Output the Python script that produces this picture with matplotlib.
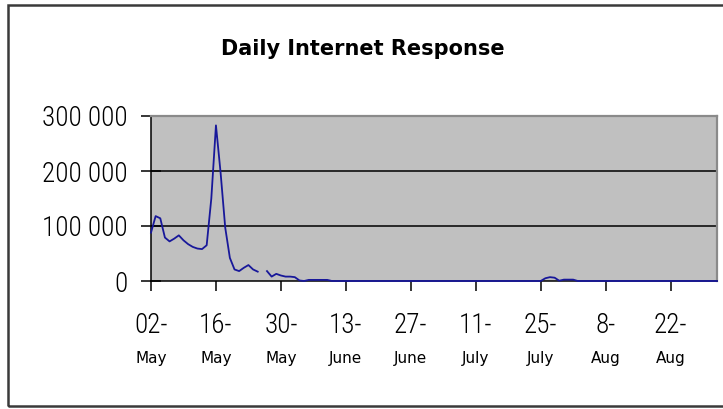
import matplotlib
matplotlib.use('Agg')
import matplotlib.pyplot as plt
from matplotlib.patches import Rectangle
import numpy as np
import pandas as pd

# daily hits, 02 May .. 01 Sep (nan = no data that day)
start_date = '2000-05-02'
values = [88000, 118000, 114000, 79000, 72000, 77000, 83000, 74000, 67000, 62000,
          59000, 58000, 65000, 150000, 283000, 197000, 97000, 42000, 21000, 18000,
          24000, 29000, 21000, 17000, np.nan, 18000, 8000, 13000, 10000, 8000,
          8000, 7000, 1000, 0, 2000, 2000, 2000, 2000, 2000, 0,
          0, 0, 0, 0, 0, 0, 0, 0, 0, 0,
          0, 0, 0, 0, 0, 0, 0, 0, 0, 0,
          0, 0, 0, 0, 0, 0, 0, 0, 0, 0,
          0, 0, 0, 0, 0, 0, 0, 0, 0, 0,
          0, 0, 0, 0, 0, 5000, 7000, 6000, 500, 2500,
          2500, 2500, 0, 0, 0, 0, 0, 0, 0, 0,
          0, 0, 0, 0, 0, 0, 0, 0, 0, 0,
          0, 0, 0, 0, 0, 0, 0, 0, 0, 0,
          0, 0, 0]
dates = pd.date_range(start_date, periods=len(values), freq='D')

tick_dates = ['2000-05-02', '2000-05-16', '2000-05-30', '2000-06-13', '2000-06-27',
              '2000-07-11', '2000-07-25', '2000-08-08', '2000-08-22']
tick_day = ['02-', '16-', '30-', '13-', '27-', '11-', '25-', '8-', '22-']
tick_month = ['May', 'May', 'May', 'June', 'June', 'July', 'July', 'Aug', 'Aug']
y_ticks = [0, 100000, 200000, 300000]
y_labels = ['0', '100 000', '200 000', '300 000']

narrow = 'Roboto Condensed'

fig = plt.figure(figsize=(7.23, 4.09), dpi=100)
fig.patches.append(Rectangle((8/723, 3/409), 1.0, 401/409, transform=fig.transFigure,
                             fill=False, edgecolor='#3a3a3a', linewidth=1.8))

ax = fig.add_axes([151/723, 1-281/409, (717-151)/723, (281-116)/409])
ax.set_facecolor('#c0c0c0')

ax.plot(dates, values, color='#18189a', linewidth=1.3, zorder=4, clip_on=False)

ax.set_xlim(dates[0], dates[-1])
ax.set_ylim(0, 300000)

for yv in [100000, 200000]:
    ax.axhline(yv, color='black', linewidth=1.1, zorder=1)

for s in ['top', 'right']:
    ax.spines[s].set_color('#8a8a8a')
    ax.spines[s].set_linewidth(1.6)
for s in ['left', 'bottom']:
    ax.spines[s].set_color('black')
    ax.spines[s].set_linewidth(1.1)

ax.set_yticks(y_ticks)
ax.set_yticklabels(y_labels, fontsize=19.5, family=narrow, fontweight='light')
ax.tick_params(axis='y', direction='inout', length=15, width=1.1, pad=9)

tpos = pd.to_datetime(tick_dates)
ax.set_xticks(tpos)
ax.set_xticklabels([''] * len(tpos))
ax.tick_params(axis='x', direction='out', length=7, width=1.1)

for t, d, m in zip(tpos, tick_day, tick_month):
    ax.annotate(d, xy=(t, 0), xycoords=('data', 'axes fraction'), xytext=(0, -52),
                textcoords='offset pixels', ha='center', va='baseline',
                fontsize=19.5, family=narrow, fontweight='light')
    ax.annotate(m, xy=(t, 0), xycoords=('data', 'axes fraction'), xytext=(0, -82),
                textcoords='offset pixels', ha='center', va='baseline',
                fontsize=11, family='DejaVu Sans')

fig.text(363/723, 1-55/409, 'Daily Internet Response', ha='center', va='baseline',
         fontsize=15, fontweight='bold', family='DejaVu Sans')

fig.savefig('out.png', dpi=100)
